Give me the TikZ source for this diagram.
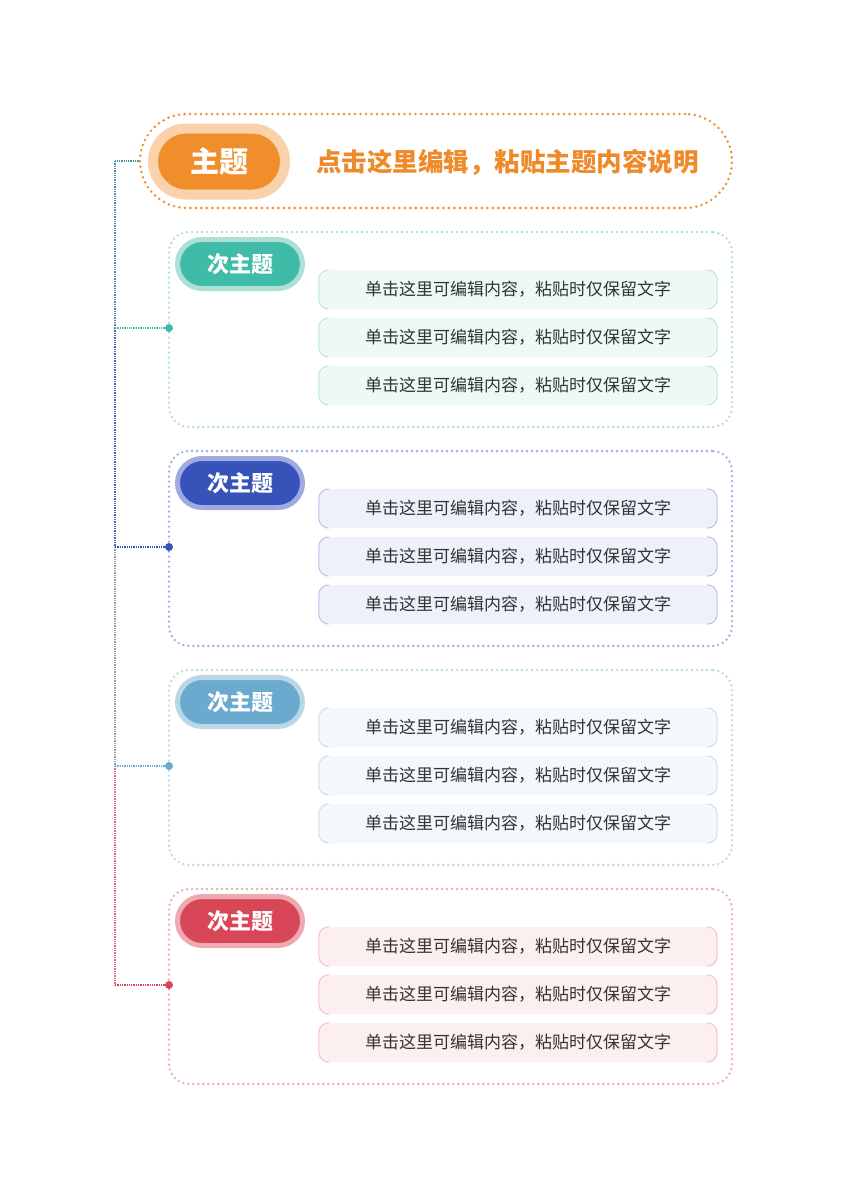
\documentclass[tikz,border=0pt]{standalone}
\usepackage{fontspec}
\setmainfont{Noto Sans CJK SC}
\definecolor{orgM}{HTML}{F08E2B}
\definecolor{orgH}{HTML}{F9D2AB}
\definecolor{orgT}{HTML}{EE8A2A}
\definecolor{tealP}{HTML}{3FBBA8}
\definecolor{tealH}{HTML}{ABE0D7}
\definecolor{tealF}{HTML}{EEF8F6}
\definecolor{tealB}{HTML}{BCE5DE}
\definecolor{blueP}{HTML}{3752B8}
\definecolor{blueH}{HTML}{9EAAE0}
\definecolor{blueF}{HTML}{EEF0FA}
\definecolor{blueB}{HTML}{BAC2E7}
\definecolor{lbP}{HTML}{6BA9CE}
\definecolor{lbH}{HTML}{BAD7E8}
\definecolor{lbF}{HTML}{F3F8FB}
\definecolor{lbB}{HTML}{C8DEEB}
\definecolor{redP}{HTML}{D94658}
\definecolor{redH}{HTML}{EFA9B2}
\definecolor{redF}{HTML}{FCEFF0}
\definecolor{redB}{HTML}{F3C0C6}
\definecolor{txt}{HTML}{333333}
\definecolor{trunkA}{HTML}{4A8FA3}
\definecolor{trunkB}{HTML}{4B5DB5}
\definecolor{trunkC}{HTML}{A095B5}
\definecolor{trunkD}{HTML}{E06677}
\begin{document}
\begin{tikzpicture}[x=1pt,y=1pt,
  mainbox/.style={draw=orgM, line width=2.8pt, dash pattern=on 0pt off 5.5pt, line cap=round,
    minimum width=592pt, minimum height=94pt, rounded corners=47pt, inner sep=0pt},
  mainpill/.style={draw=orgH, fill=orgM, line width=10pt, minimum width=132pt, minimum height=66pt,
    rounded corners=33pt, inner sep=0pt, text=white, font=\bfseries\fontsize{29pt}{32pt}\selectfont},
  grpbox/.style={line width=2.6pt, dash pattern=on 0pt off 5pt, line cap=round,
    minimum width=563pt, minimum height=195pt, rounded corners=20pt, inner sep=0pt},
  subpill/.style={line width=5pt, minimum width=125pt, minimum height=49pt,
    rounded corners=24.5pt, inner sep=0pt, text=white, font=\bfseries\fontsize{22pt}{25pt}\selectfont},
  leafbox/.style={minimum width=398pt, minimum height=39pt, rounded corners=10pt, inner sep=0pt,
    text=txt, font=\fontsize{17pt}{20pt}\selectfont},
  leafedge/.style={line width=1pt, rounded corners=10pt},
  conn/.style={line width=1.3pt, dash pattern=on 1.3pt off 1pt},
  dotnode/.style={circle, inner sep=0pt, minimum size=8pt}
]
\useasboundingbox (0,0) rectangle (848,-1200);
% main topic
\node[mainbox] (mb) at (436,-161) {};
\node[mainpill] (mp) at (219,-161.5) {主题};
\node[anchor=west, inner sep=0pt, text=orgT, font=\bfseries\fontsize{25.5pt}{28pt}\selectfont] (mt) at (316,-162) {点击这里编辑，粘贴主题内容说明};
% junctions on the trunk
\coordinate (j0) at (115,-161);
\foreach \k in {0,1,2,3}{
  \pgfmathsetmacro\dy{328+219*\k}
  \coordinate (j\k b) at (115,-\dy);
}
\draw[conn, color=trunkA] (mb.west) -- (j0);
\draw[conn, color=trunkA] (j0) -- (j0b);
\draw[conn, color=trunkB] (j0b) -- (j1b);
\draw[conn, color=trunkC] (j1b) -- (j2b);
\draw[conn, color=trunkD] (j2b) -- (j3b);
% groups
\foreach \k/\pc/\hc/\fc/\bc in {0/tealP/tealH/tealF/tealB, 1/blueP/blueH/blueF/blueB, 2/lbP/lbH/lbF/lbB, 3/redP/redH/redF/redB}{
  \pgfmathsetmacro\gy{329.5+219*\k}
  \pgfmathsetmacro\py{264+219*\k}
  \pgfmathsetmacro\dy{328+219*\k}
  \node[grpbox, draw=\hc] (g\k) at (450.5,-\gy) {};
  \node[subpill, draw=\hc, fill=\pc] (s\k) at (240,-\py) {次主题};
  \node[dotnode, fill=\pc] (d\k) at (169,-\dy) {};
  \draw[conn, color=\pc] (j\k b) -- (d\k);
  \foreach \i in {0,1,2}{
    \pgfmathsetmacro\ly{289.5+48*\i+219*\k}
    \node[leafbox, fill=\fc] (l\k\i) at (518,-\ly) {单击这里可编辑内容，粘贴时仅保留文字};
    \draw[leafedge, draw=\bc] ([xshift=10pt]l\k\i.north west) -- (l\k\i.north west) -- (l\k\i.south west) -- ([xshift=10pt]l\k\i.south west);
    \draw[leafedge, draw=\bc] ([xshift=-10pt]l\k\i.north east) -- (l\k\i.north east) -- (l\k\i.south east) -- ([xshift=-10pt]l\k\i.south east);
  }
}
\end{tikzpicture}
\end{document}
